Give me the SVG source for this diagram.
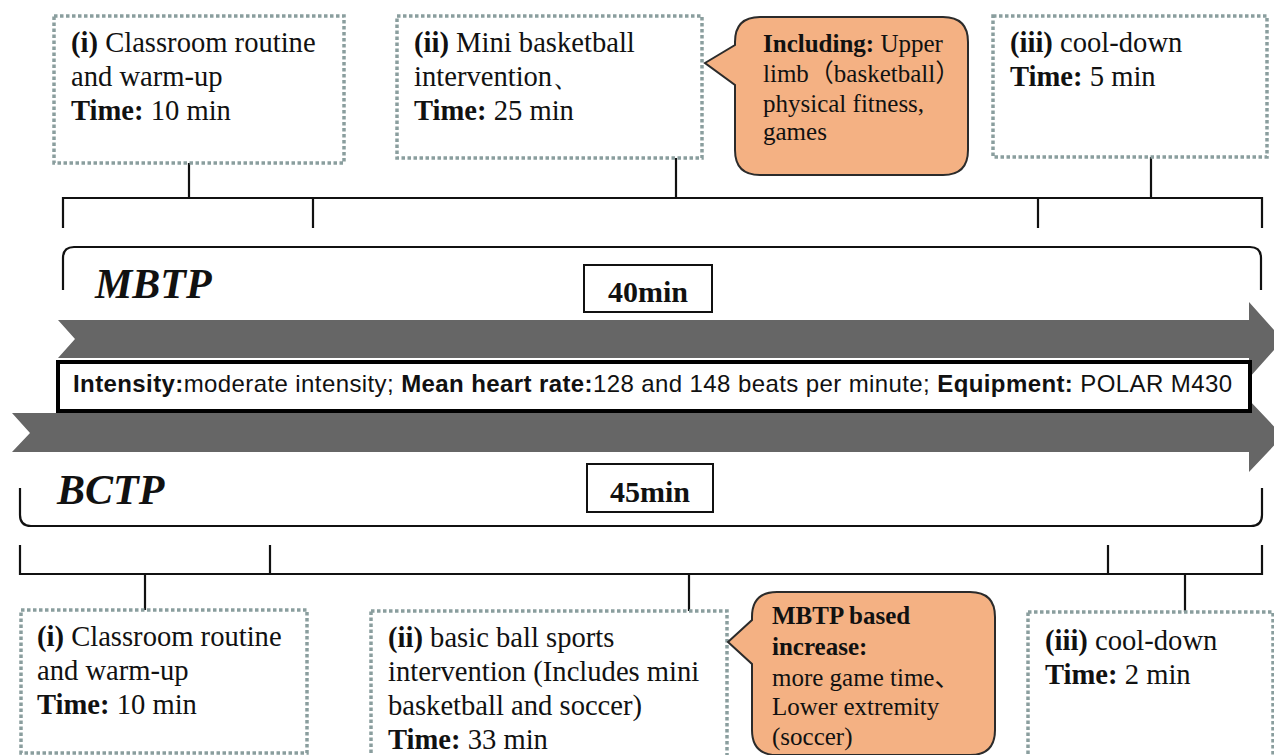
<svg xmlns="http://www.w3.org/2000/svg" width="1274" height="755" viewBox="0 0 1274 755">
<style>
.dot{fill:#fff;stroke:#8A9E9E;stroke-width:3.5;stroke-dasharray:3.5 2.5}
.call{fill:#F4B183;stroke:#2b2b2b;stroke-width:2}
.t{font-family:"Liberation Serif","Times New Roman",serif;font-size:28.6px;fill:#111}
.tc{font-family:"Liberation Serif","Times New Roman","Noto Sans CJK SC",serif;font-size:25px;fill:#111}
.b{font-weight:bold}
.ln{stroke:#111;stroke-width:2.2;fill:none}
.arr{fill:#666}
.big{font-family:"Liberation Serif","Times New Roman",serif;font-size:42px;font-weight:bold;font-style:italic;fill:#111}
.min{font-family:"Liberation Serif","Times New Roman",serif;font-size:30px;font-weight:bold;fill:#111}
.info{font-family:"Liberation Sans",Arial,sans-serif;font-size:24px;fill:#111}
</style>
<rect width="1274" height="755" fill="#fff"/>

<g id="arrows">
<polygon class="arr" points="58,320 1249,320 1249,302 1283,340 1249,378 1249,358 58,358 75,339"/>
<polygon class="arr" points="12,413 1249,413 1249,400 1283,436 1249,472 1249,452 12,452 30,433"/>
</g>

<g id="info">
<rect x="58" y="362" width="1192" height="49" fill="#fff" stroke="#000" stroke-width="4"/>
<text class="info" x="73" y="392" textLength="1159" lengthAdjust="spacing"><tspan font-weight="bold">Intensity:</tspan>moderate intensity; <tspan font-weight="bold">Mean heart rate:</tspan>128 and 148 beats per minute; <tspan font-weight="bold">Equipment:</tspan> POLAR M430</text>
</g>

<g id="connectors">
<path class="ln" d="M63,290 L63,258 Q63,247 74,247 L1250,247 Q1261,247 1261,258 L1261,290"/>
<path class="ln" d="M20,488 L20,515 Q20,526 31,526 L1251,526 Q1262,526 1262,515 L1262,488"/>
<path class="ln" d="M63,228 L63,198 L1262,198 L1262,228 M313,198 L313,228 M1038,198 L1038,228 M189,163 L189,198 M676,158 L676,198 M1151,157 L1151,198"/>
<path class="ln" d="M20,545 L20,574 L1262,574 L1262,545 M270,574 L270,545 M1108,574 L1108,545 M145,574 L145,610 M689,574 L689,611 M1185,574 L1185,612"/>
</g>

<g id="mbtp">
<text class="big" x="95" y="298">MBTP</text>
<rect x="584" y="265" width="128" height="47" fill="#fff" stroke="#111" stroke-width="2"/>
<text class="min" x="648" y="302" text-anchor="middle">40min</text>
</g>

<g id="bctp">
<text class="big" x="57" y="504">BCTP</text>
<rect x="587" y="464" width="126" height="48" fill="#fff" stroke="#111" stroke-width="2"/>
<text class="min" x="650" y="502" text-anchor="middle">45min</text>
</g>

<g id="top-i">
<rect class="dot" x="54" y="16" width="290" height="147"/>
<text class="t" x="71" y="52"><tspan class="b">(i)</tspan> Classroom routine</text>
<text class="t" x="71" y="86">and warm-up</text>
<text class="t" x="71" y="120"><tspan class="b">Time:</tspan> 10 min</text>
</g>

<g id="top-ii">
<rect class="dot" x="397" y="16" width="305" height="142"/>
<text class="t" x="414" y="52"><tspan class="b">(ii)</tspan> Mini basketball</text>
<text class="t" x="414" y="86">intervention、</text>
<text class="t" x="414" y="120"><tspan class="b">Time:</tspan> 25 min</text>
</g>

<g id="top-callout">
<path class="call" d="M760,17 L943,17 Q968,17 968,42 L968,150 Q968,175 943,175 L760,175 Q735,175 735,150 L735,85 L705,63 L735,45 L735,42 Q735,17 760,17 Z"/>
<text class="tc" x="763" y="52"><tspan class="b">Including:</tspan> Upper</text>
<text class="tc" x="763" y="82">limb（basketball）</text>
<text class="tc" x="763" y="112">physical fitness,</text>
<text class="tc" x="763" y="140">games</text>
</g>

<g id="top-iii">
<rect class="dot" x="993" y="16" width="274" height="141"/>
<text class="t" x="1010" y="52"><tspan class="b">(iii)</tspan> cool-down</text>
<text class="t" x="1010" y="86"><tspan class="b">Time:</tspan> 5 min</text>
</g>

<g id="bot-i">
<rect class="dot" x="21" y="610" width="286" height="143"/>
<text class="t" x="37" y="646"><tspan class="b">(i)</tspan> Classroom routine</text>
<text class="t" x="37" y="680">and warm-up</text>
<text class="t" x="37" y="714"><tspan class="b">Time:</tspan> 10 min</text>
</g>

<g id="bot-ii">
<rect class="dot" x="371" y="611" width="356" height="150"/>
<text class="t" x="388" y="647"><tspan class="b">(ii)</tspan> basic ball sports</text>
<text class="t" x="388" y="681">intervention (Includes mini</text>
<text class="t" x="388" y="715">basketball and soccer)</text>
<text class="t" x="388" y="749"><tspan class="b">Time:</tspan> 33 min</text>
</g>

<g id="bot-callout">
<path class="call" d="M777,592 L970,592 Q995,592 995,617 L995,730 Q995,755 970,755 L777,755 Q752,755 752,730 L752,664 L728,642 L752,620 L752,617 Q752,592 777,592 Z"/>
<text class="tc b" x="772" y="624">MBTP based</text>
<text class="tc b" x="772" y="655">increase:</text>
<text class="tc" x="772" y="686">more game time、</text>
<text class="tc" x="772" y="715">Lower extremity</text>
<text class="tc" x="772" y="745">(soccer)</text>
</g>

<g id="bot-iii">
<rect class="dot" x="1028" y="612" width="245" height="150"/>
<text class="t" x="1045" y="650"><tspan class="b">(iii)</tspan> cool-down</text>
<text class="t" x="1045" y="684"><tspan class="b">Time:</tspan> 2 min</text>
</g>
</svg>
